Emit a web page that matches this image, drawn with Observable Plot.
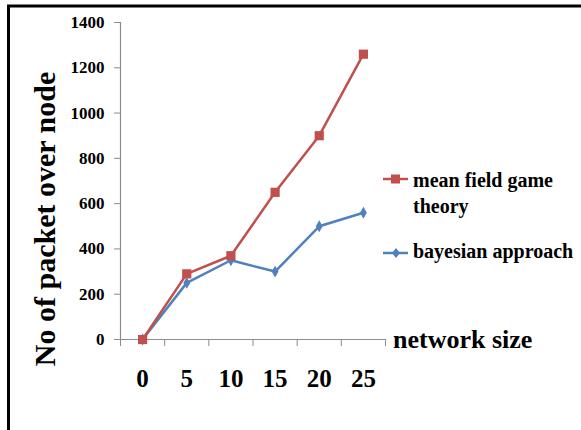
<!DOCTYPE html>
<html>
<head>
<meta charset="utf-8">
<script src="https://cdn.jsdelivr.net/npm/d3@7"></script>
<script src="https://cdn.jsdelivr.net/npm/@observablehq/plot@0.6"></script>
<style>
  html, body { margin: 0; padding: 0; background: #fff; }
  #chart { position: relative; width: 581px; height: 430px; overflow: hidden; }
</style>
</head>
<body>
<div id="chart"></div>
<script>
// ---- data ----
const categories = [0, 5, 10, 15, 20, 25];
const meanField = [0, 290, 370, 650, 900, 1260];
const bayesian = [0, 250, 350, 300, 500, 560];
const yTicks = [0, 200, 400, 600, 800, 1000, 1200, 1400];
const seriesNames = ["mean field game theory", "bayesian approach"];
const colors = ["#C0504D", "#4F81BD"];
const yTitle = "No of packet over node";
const xTitle = "network size";

const rows = [];
categories.forEach((c, i) => {
  rows.push({x: c, y: meanField[i], s: seriesNames[0]});
  rows.push({x: c, y: bayesian[i], s: seriesNames[1]});
});
const red = rows.filter(d => d.s === seriesNames[0]);
const blue = rows.filter(d => d.s === seriesNames[1]);

const step = categories[1] - categories[0];
const bounds = categories.map(c => c - step / 2).concat([categories[categories.length - 1] + step / 2]);

const font = "'Liberation Serif', 'Times New Roman', serif";
const axisGray = "#8c8c8c";

const chart = Plot.plot({
  width: 581,
  height: 430,
  marginLeft: 120,
  marginRight: 196,
  marginTop: 22,
  marginBottom: 91,
  style: {fontFamily: font, fontWeight: "bold", background: "transparent", color: "black"},
  x: {type: "linear", domain: [bounds[0], bounds[bounds.length - 1]]},
  y: {domain: [0, 1400]},
  marks: [
    Plot.ruleX([bounds[0]], {stroke: axisGray, strokeWidth: 1.2}),
    Plot.ruleY([0], {stroke: axisGray, strokeWidth: 1.2}),
    Plot.axisY({ticks: yTicks, tickFormat: d => String(d), tickSize: 6, tickPadding: 10, fontSize: 17, label: null, stroke: axisGray, fill: "black"}),
    Plot.axisX({ticks: bounds, tickFormat: () => "", tickSize: 7, stroke: axisGray, label: null}),
    Plot.axisX({ticks: categories, tickFormat: d => String(d), tickSize: 0, tickPadding: 30, fontSize: 25, label: null, fill: "black"}),
    Plot.line(blue, {x: "x", y: "y", stroke: colors[1], strokeWidth: 2.5}),
    Plot.dot(blue, {x: "x", y: "y", fill: colors[1], symbol: "diamond", r: 3.6, stroke: null}),
    Plot.line(red, {x: "x", y: "y", stroke: colors[0], strokeWidth: 2.5}),
    Plot.dot(red, {x: "x", y: "y", fill: colors[0], symbol: "square", r: 5.2, stroke: null})
  ]
});
document.getElementById("chart").appendChild(chart);

// ---- titles, legend and frame (layout) ----
const svg = d3.select(chart);
svg.append("path")
  .attr("d", "M8.5,431 L8.5,6 L582,6")
  .attr("fill", "none").attr("stroke", "black").attr("stroke-width", 3);

svg.append("text")
  .attr("transform", "translate(55,219) rotate(-90)")
  .attr("text-anchor", "middle")
  .style("font-family", font).style("font-weight", "bold").style("font-size", "30px")
  .attr("fill", "black")
  .text(yTitle);

svg.append("text")
  .attr("x", 393).attr("y", 348)
  .attr("text-anchor", "start")
  .style("font-family", font).style("font-weight", "bold").style("font-size", "26px")
  .attr("fill", "black")
  .text(xTitle);

// legend
const lg = svg.append("g").attr("text-anchor", "start");
// red entry
lg.append("line").attr("x1", 383).attr("x2", 408).attr("y1", 179).attr("y2", 179)
  .attr("stroke", colors[0]).attr("stroke-width", 2.5);
lg.append("rect").attr("x", 391).attr("y", 174.5).attr("width", 9).attr("height", 9).attr("fill", colors[0]);
const t1 = lg.append("text").attr("x", 413).attr("y", 187).attr("text-anchor", "start")
  .style("font-family", font).style("font-weight", "bold").style("font-size", "20px").attr("fill", "black");
t1.append("tspan").attr("x", 413).attr("y", 187).text("mean field game");
t1.append("tspan").attr("x", 413).attr("y", 213).text("theory");
// blue entry
lg.append("line").attr("x1", 383).attr("x2", 408).attr("y1", 253).attr("y2", 253)
  .attr("stroke", colors[1]).attr("stroke-width", 2.5);
lg.append("path").attr("d", "M396,248 L400,253 L396,258 L392,253 Z").attr("fill", colors[1]);
lg.append("text").attr("x", 413).attr("y", 258).attr("text-anchor", "start")
  .style("font-family", font).style("font-weight", "bold").style("font-size", "20px").attr("fill", "black")
  .text(seriesNames[1]);
</script>
</body>
</html>
